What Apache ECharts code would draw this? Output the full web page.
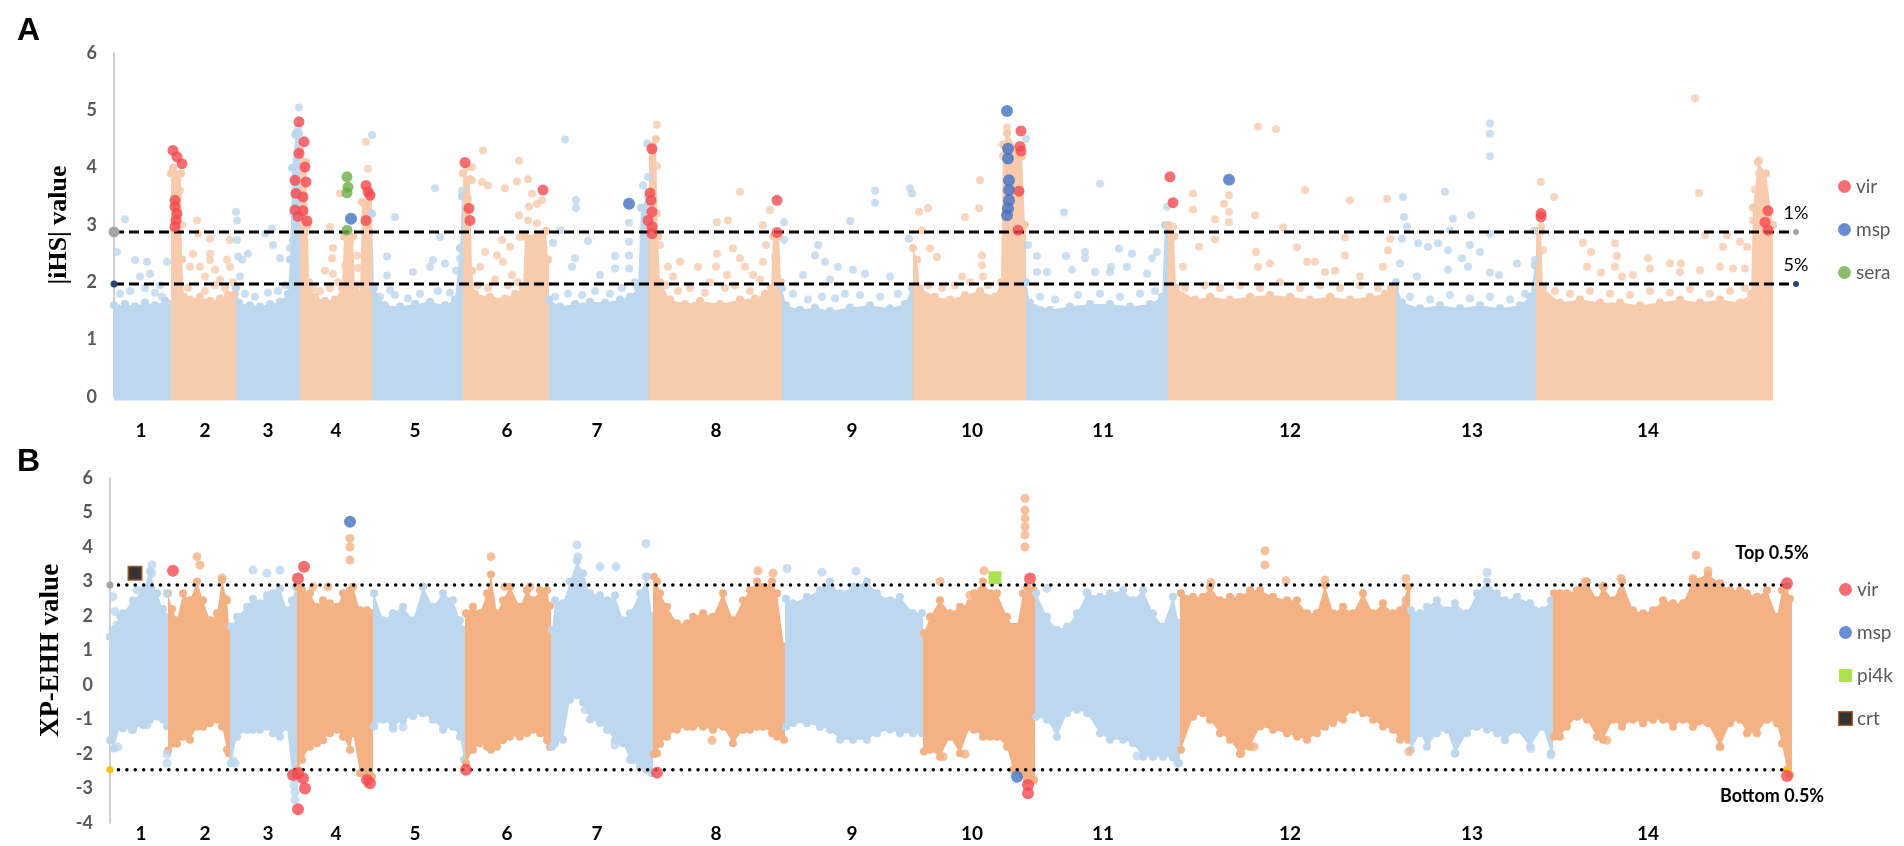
<!DOCTYPE html>
<html>
<head>
<meta charset="utf-8">
<title>iHS and XP-EHH genome scans</title>
<script src="https://cdn.jsdelivr.net/npm/echarts@6/dist/echarts.min.js"></script>
<style>
html, body { margin: 0; padding: 0; background: #fff; }
#main { width: 1904px; height: 846px; }
</style>
</head>
<body>
<div id="main"></div>
<script>
// chromosome labels and their place on the SNP-index axis (same for both panels)
var chrNames = ['1', '2', '3', '4', '5', '6', '7', '8', '9', '10', '11', '12', '13', '14'];
var chrLabelPos = [31, 95, 158, 226, 305, 397, 487, 606, 742, 862, 993, 1180, 1362, 1538];

/* ---------------- panel A : |iHS| ---------------- */
var aChrStart = [4, 61, 126, 190, 262, 353, 439, 539, 672, 803, 916, 1058, 1286, 1426];
var aChrEnd = 1663;
var ihsTop1 = 2.88, ihsTop5 = 1.97;

// upper edge of the dense cloud of SNPs: [index, |iHS|]
var aEnv = [
  [4, 1.6], [8, 1.55], [15, 1.62], [25, 1.58], [35, 1.65], [45, 1.6], [55, 1.68], [60, 1.62],
  [61, 3.9], [63, 4.0], [71, 3.9], [72, 2.4], [74, 1.75], [80, 1.7], [90, 1.75], [100, 1.68], [110, 1.72], [118, 1.78], [125, 1.8],
  [126, 1.9], [129, 1.65], [140, 1.6], [150, 1.58], [160, 1.62], [170, 1.66], [178, 1.8], [180, 2.4], [182, 4.0], [186, 4.6], [189, 4.6],
  [190, 4.3], [196, 4.1], [198, 3.0], [199, 2.0], [205, 1.75], [215, 1.68], [225, 1.7], [232, 1.9], [234, 2.8], [243, 2.8], [245, 1.9], [250, 1.8], [252, 3.4], [260, 3.5], [261, 3.5],
  [262, 3.2], [264, 1.9], [275, 1.6], [290, 1.58], [305, 1.62], [320, 1.66], [335, 1.6], [345, 1.7], [350, 2.6], [352, 3.5],
  [353, 3.9], [360, 3.8], [362, 2.2], [365, 1.8], [380, 1.75], [395, 1.72], [405, 1.8], [413, 1.9], [415, 2.8], [436, 2.9], [438, 2.4],
  [439, 1.7], [450, 1.58], [465, 1.62], [480, 1.66], [495, 1.65], [510, 1.7], [520, 1.75], [528, 1.9], [531, 3.3], [538, 3.5],
  [539, 4.4], [546, 4.5], [548, 2.8], [550, 2.0], [560, 1.7], [575, 1.62], [590, 1.68], [610, 1.62], [630, 1.7], [645, 1.72], [655, 1.8], [661, 1.9], [663, 2.8], [669, 2.8], [671, 2.0],
  [672, 1.9], [676, 1.6], [690, 1.52], [705, 1.56], [720, 1.5], [740, 1.56], [760, 1.6], [780, 1.55], [795, 1.62], [802, 1.9],
  [803, 2.6], [807, 2.4], [810, 1.9], [825, 1.75], [840, 1.7], [855, 1.78], [870, 1.85], [885, 1.75], [891, 2.0], [893, 4.4], [897, 4.6], [912, 4.2], [915, 3.0],
  [916, 2.0], [920, 1.65], [940, 1.52], [960, 1.58], [980, 1.62], [1000, 1.62], [1020, 1.58], [1040, 1.62], [1052, 1.75], [1055, 3.0], [1057, 3.0],
  [1058, 3.0], [1064, 2.8], [1066, 1.9], [1085, 1.7], [1100, 1.75], [1120, 1.7], [1140, 1.75], [1160, 1.78], [1180, 1.75], [1200, 1.7], [1220, 1.75], [1240, 1.7], [1260, 1.75], [1275, 1.8], [1281, 1.9], [1285, 1.9],
  [1286, 2.0], [1292, 1.65], [1310, 1.55], [1330, 1.6], [1350, 1.55], [1370, 1.6], [1390, 1.55], [1410, 1.6], [1420, 1.75], [1425, 2.3],
  [1426, 2.9], [1431, 2.9], [1433, 1.9], [1450, 1.65], [1470, 1.7], [1490, 1.65], [1510, 1.65], [1530, 1.6], [1550, 1.65], [1570, 1.7], [1590, 1.65], [1610, 1.7], [1630, 1.65], [1641, 1.8], [1643, 3.3], [1648, 4.1], [1656, 3.9], [1663, 3.0]
];

// single SNPs standing out of the cloud
var aOut = [
  [15, 3.1], [7, 2.53], [25, 2.39], [37, 2.36], [40, 2.15], [30, 2.1], [57, 2.36], [35, 1.9], [50, 1.95],
  [10, 1.8], [20, 1.85], [45, 1.82], [52, 1.75],
  [63, 3.9], [66, 3.7], [68, 3.5], [65, 3.3], [70, 3.6], [72, 3.0], [64, 2.9],
  [87, 3.08], [88, 2.85], [100, 2.76], [100, 2.5], [100, 2.39], [83, 2.5], [80, 2.27], [90, 2.27], [105, 2.22], [120, 2.74], [120, 2.27], [117, 2.4], [95, 2.1], [110, 2.05],
  [78, 1.9], [95, 1.85], [105, 1.95], [115, 1.9], [123, 2.0],
  [126, 3.23], [127, 3.08], [127, 2.74], [128, 2.45], [130, 2.1], [138, 2.5], [132, 2.4], [155, 2.85], [162, 2.94], [163, 2.65], [170, 2.42], [180, 2.6], [183, 2.73], [183, 3.2], [185, 4.57], [188, 4.7], [189, 5.05],
  [135, 1.8], [145, 1.75], [158, 1.82], [168, 1.85], [175, 1.95],
  [220, 2.97], [223, 2.6], [222, 2.42], [223, 2.15], [230, 3.55], [247, 2.47], [248, 2.25], [240, 2.7], [256, 4.45], [258, 3.98], [235, 2.3], [215, 2.2],
  [203, 1.9], [210, 1.85], [220, 1.9], [228, 2.0], [248, 1.95],
  [262, 4.57], [285, 3.14], [277, 2.45], [277, 2.12], [280, 1.86], [303, 2.18], [320, 2.27], [323, 2.39], [325, 3.64], [330, 2.79], [335, 2.33], [350, 2.42], [352, 3.6], [346, 2.2],
  [270, 1.75], [285, 1.78], [298, 1.72], [310, 1.8], [328, 1.85], [340, 1.82],
  [373, 4.3], [362, 4.01], [362, 3.78], [372, 3.75], [378, 3.69], [395, 3.64], [407, 3.76], [409, 4.12], [418, 3.8], [422, 3.55], [432, 3.43], [409, 3.17], [419, 3.32], [427, 3.37], [418, 3.08], [427, 3.03],
  [392, 2.74], [400, 2.62], [375, 2.53], [387, 2.47], [393, 2.36], [370, 2.27], [402, 2.13], [410, 2.79], [358, 3.46], [357, 4.0],
  [368, 1.95], [378, 1.9], [385, 2.05], [398, 1.95], [408, 2.0],
  [455, 4.49], [466, 3.43], [466, 3.3], [450, 2.91], [443, 2.69], [478, 2.72], [465, 2.42], [462, 2.27], [490, 2.13], [505, 2.46], [505, 2.24], [519, 3.04], [519, 2.71], [519, 2.47], [519, 2.24], [533, 3.69], [535, 3.2], [537, 4.42], [538, 3.84],
  [445, 1.75], [458, 1.8], [472, 1.78], [485, 1.85], [500, 1.8], [512, 1.9], [525, 2.0],
  [547, 4.75], [547, 4.03], [547, 3.2], [550, 2.65], [558, 2.27], [570, 2.36], [563, 2.1], [588, 2.27], [607, 3.05], [618, 3.08], [607, 2.5], [606, 2.27], [623, 2.59], [630, 3.58], [630, 2.42], [617, 2.13], [635, 2.27], [643, 2.13], [653, 3.0], [660, 3.26], [656, 2.65], [653, 2.36], [665, 2.44],
  [556, 1.95], [568, 1.85], [580, 1.9], [595, 1.82], [600, 2.0], [615, 1.9], [625, 1.95], [640, 1.85], [650, 2.05],
  [674, 3.05], [674, 2.74], [693, 2.13], [708, 2.65], [705, 2.47], [715, 2.36], [728, 2.27], [740, 3.07], [743, 2.22], [765, 3.6], [765, 3.39], [800, 3.64], [799, 2.76], [780, 2.1], [755, 2.15], [720, 2.05], [802, 3.55],
  [683, 1.8], [698, 1.7], [712, 1.75], [725, 1.72], [735, 1.8], [750, 1.78], [770, 1.75], [788, 1.8],
  [809, 3.23], [818, 3.29], [812, 2.91], [820, 2.59], [827, 2.44], [855, 3.14], [869, 3.29], [870, 3.78], [872, 2.47], [872, 2.3], [873, 2.1], [852, 2.1], [897, 4.7], [893, 4.2], [900, 3.9], [905, 3.6],
  [818, 1.95], [832, 1.9], [845, 1.95], [860, 2.0], [878, 1.95],
  [916, 4.5], [918, 2.65], [927, 2.46], [927, 2.18], [937, 2.18], [954, 3.22], [956, 2.46], [962, 2.22], [975, 2.53], [975, 2.42], [990, 3.72], [985, 2.18], [1000, 2.18], [1001, 2.27], [1009, 2.59], [1017, 2.27], [1022, 2.5], [1042, 2.42], [1047, 2.53], [1037, 2.15], [1057, 3.32],
  [930, 1.75], [945, 1.7], [968, 1.78], [990, 1.8], [1010, 1.75], [1030, 1.8], [1045, 1.85],
  [1063, 2.97], [1073, 2.27], [1083, 3.55], [1083, 3.27], [1089, 2.62], [1105, 3.1], [1105, 2.75], [1114, 3.37], [1119, 3.52], [1119, 3.23], [1119, 3.05], [1145, 3.17], [1148, 4.72], [1166, 4.67], [1146, 2.53], [1148, 2.27], [1160, 2.33],
  [1173, 2.96], [1187, 2.61], [1195, 3.61], [1197, 2.36], [1205, 2.36], [1215, 2.18], [1235, 2.78], [1235, 2.47], [1240, 3.43], [1277, 3.46], [1278, 2.56], [1280, 2.76], [1273, 2.27], [1250, 2.1], [1225, 2.2],
  [1075, 1.9], [1095, 1.95], [1110, 1.9], [1130, 1.95], [1150, 1.9], [1170, 2.0], [1190, 1.9], [1210, 1.95], [1230, 1.9], [1250, 1.95], [1268, 1.9],
  [1293, 3.49], [1294, 3.14], [1297, 2.97], [1290, 2.33], [1292, 2.76], [1307, 2.1], [1308, 2.68], [1318, 2.62], [1328, 2.68], [1335, 3.58], [1343, 3.11], [1340, 2.91], [1338, 2.56], [1338, 2.22], [1352, 2.42], [1358, 2.27], [1360, 2.65], [1361, 3.17], [1370, 2.53],
  [1380, 4.77], [1380, 4.59], [1380, 4.2], [1380, 2.85], [1380, 2.17], [1389, 2.13], [1407, 2.33], [1425, 2.39], [1424, 2.9],
  [1300, 1.75], [1320, 1.7], [1340, 1.78], [1360, 1.72], [1380, 1.75], [1400, 1.7], [1415, 1.8],
  [1431, 3.75], [1444, 3.49], [1431, 2.97], [1433, 2.56], [1473, 2.69], [1481, 2.53], [1477, 2.27], [1491, 2.17], [1505, 2.68], [1507, 2.46], [1505, 2.27], [1512, 2.1], [1523, 2.13], [1538, 2.42], [1540, 2.24], [1560, 2.33], [1571, 2.33], [1570, 2.18],
  [1585, 5.21], [1589, 3.56], [1595, 2.82], [1590, 2.21], [1610, 2.27], [1613, 2.62], [1617, 2.82], [1623, 2.24], [1630, 2.71], [1637, 2.62], [1635, 2.24], [1649, 4.13], [1649, 3.9], [1645, 3.62], [1643, 3.08],
  [1445, 1.85], [1460, 1.8], [1480, 1.85], [1500, 1.8], [1520, 1.78], [1540, 1.85], [1560, 1.82], [1580, 1.88], [1600, 1.8], [1620, 1.85], [1635, 1.9]
];

var aVir = [
  [63, 4.3], [67, 4.19], [72, 4.07], [65, 3.43], [65, 3.32], [67, 3.2], [66, 3.08], [65, 2.97],
  [189, 4.8], [194, 4.45], [189, 4.25], [195, 4.01], [185, 3.78], [196, 3.75], [186, 3.55], [193, 3.49], [185, 3.26], [193, 3.25], [188, 3.15], [197, 3.07],
  [256, 3.69], [258, 3.58], [260, 3.52], [256, 3.08],
  [355, 4.09], [359, 3.29], [360, 3.08], [433, 3.61],
  [542, 4.33], [540, 3.56], [541, 3.43], [542, 3.23], [538, 3.08], [542, 2.97], [542, 2.85],
  [667, 3.43], [667, 2.87],
  [911, 4.64], [910, 4.37], [911, 4.29], [909, 3.59], [908, 2.91],
  [1060, 3.84], [1063, 3.39], [1431, 3.2], [1431, 3.14],
  [1658, 3.25], [1655, 3.05], [1658, 2.91]
];
var aMsp = [[241, 3.11], [519, 3.37], [897, 4.99], [898, 4.33], [898, 4.16], [899, 3.78], [899, 3.61], [899, 3.43], [898, 3.29], [897, 3.17], [1119, 3.79]];
var aSera = [[237, 3.84], [238, 3.66], [237, 3.56], [237, 2.91]];

/* ---------------- panel B : XP-EHH ---------------- */
var bChrStart = [0, 58, 120, 187, 263, 355, 441, 543, 675, 813, 925, 1070, 1300, 1443];
var bChrEnd = 1682;
var xpTop = 2.9, xpBottom = -2.46;

// lower and upper edge of the dense cloud: [index, low, high]
var bEnv = [
  [0, -1.6, 1.4], [4, -1.84, 1.6], [10, -1.2, 2.0], [13, -1.25, 2.08], [23, -1.3, 2.46], [33, -1.16, 2.75], [40, -1.0, 3.3], [47, -0.92, 2.66], [53, -1.0, 2.2], [57, -1.2, 1.98],
  [58, -1.9, 2.66], [62, -1.7, 2.2], [67, -1.7, 1.88], [73, -1.5, 2.66], [80, -1.59, 2.46], [87, -1.21, 3.0], [93, -1.21, 2.46], [100, -1.11, 1.88], [107, -1.01, 2.08], [112, -1.2, 3.04], [117, -1.88, 2.46], [119, -1.98, 1.69],
  [121, -2.27, 1.69], [127, -1.5, 1.98], [137, -1.3, 2.27], [143, -1.3, 2.5], [150, -1.3, 2.37], [157, -1.21, 2.6], [163, -1.4, 2.66], [170, -1.5, 2.8], [177, -1.21, 2.17], [182, -2.56, 2.46], [186, -2.7, 2.85],
  [188, -2.46, 2.85], [192, -2.17, 2.75], [200, -1.79, 2.66], [207, -1.69, 2.27], [213, -1.6, 2.46], [220, -1.4, 2.37], [227, -1.3, 2.27], [233, -1.5, 2.66], [240, -1.88, 2.75], [243, -1.4, 2.85], [250, -2.56, 2.17], [257, -2.66, 2.17], [262, -2.66, 2.08],
  [264, -1.2, 2.66], [273, -1.01, 1.88], [283, -1.21, 2.08], [293, -1.01, 2.27], [303, -0.9, 1.88], [313, -0.82, 2.85], [323, -1.01, 2.27], [333, -1.3, 2.66], [343, -1.21, 2.46], [350, -1.5, 1.88], [354, -2.17, 1.6],
  [356, -2.27, 2.08], [363, -1.88, 2.27], [370, -1.69, 2.08], [377, -1.79, 2.66], [381, -1.88, 3.2], [387, -1.79, 2.08], [393, -1.6, 2.46], [400, -1.5, 2.85], [410, -1.5, 2.27], [417, -1.4, 2.75], [423, -1.3, 2.46], [430, -1.4, 2.75], [437, -1.6, 2.75], [440, -1.8, 2.3],
  [442, -1.79, 1.6], [445, -1.69, 2.46], [453, -1.59, 2.37], [460, -0.43, 3.0], [467, -0.3, 3.6], [473, -0.5, 3.24], [480, -1.0, 2.66], [490, -1.1, 2.6], [497, -1.3, 2.46], [505, -1.6, 2.6], [513, -1.69, 1.88], [520, -2.17, 2.08], [530, -2.37, 2.66], [537, -2.46, 3.14], [542, -2.56, 2.0],
  [544, -2.0, 3.14], [547, -1.98, 3.0], [550, -1.7, 2.66], [557, -1.5, 2.27], [567, -1.3, 1.79], [577, -1.21, 1.79], [583, -1.21, 1.98], [593, -1.21, 2.08], [603, -1.3, 1.98], [613, -1.21, 2.66], [623, -1.69, 1.88], [633, -1.3, 2.46], [640, -1.3, 2.75], [647, -1.21, 3.0], [653, -1.21, 2.85], [662, -1.4, 3.0], [667, -1.5, 2.66], [674, -1.59, 1.11],
  [676, -1.21, 2.5], [683, -1.11, 2.37], [697, -1.11, 2.56], [710, -1.21, 2.75], [720, -1.3, 3.0], [730, -1.59, 2.66], [743, -1.59, 2.85], [757, -1.59, 3.0], [767, -1.4, 2.66], [780, -1.3, 2.46], [790, -1.4, 2.56], [803, -1.4, 2.08], [812, -1.4, 2.08],
  [814, -1.93, 1.5], [820, -1.88, 1.98], [830, -2.08, 2.46], [840, -1.5, 2.08], [850, -1.98, 2.27], [860, -1.21, 2.37], [864, -1.3, 2.66], [873, -1.5, 3.0], [880, -1.5, 2.66], [887, -1.5, 2.66], [897, -1.79, 1.98], [903, -2.46, 1.69], [907, -2.46, 1.69], [913, -2.6, 2.66], [917, -2.75, 2.85], [924, -2.75, 2.75],
  [926, -0.92, 2.66], [937, -1.01, 1.98], [947, -1.5, 1.6], [957, -0.82, 1.69], [967, -0.72, 2.08], [977, -0.82, 2.66], [990, -1.4, 2.56], [1000, -1.59, 2.66], [1013, -1.59, 2.75], [1023, -1.69, 2.46], [1033, -2.08, 2.75], [1043, -2.08, 2.08], [1053, -2.08, 1.69], [1063, -2.1, 2.56], [1069, -2.27, 1.8],
  [1071, -1.88, 2.66], [1083, -0.92, 2.56], [1093, -0.82, 2.56], [1100, -1.01, 2.85], [1110, -1.4, 2.46], [1120, -1.59, 2.56], [1130, -2.0, 2.56], [1140, -1.79, 2.75], [1150, -1.2, 2.75], [1163, -1.3, 2.56], [1177, -1.4, 2.46], [1187, -1.5, 2.46], [1197, -1.59, 2.08], [1207, -1.4, 2.08], [1215, -1.21, 2.9], [1223, -1.1, 2.08], [1233, -1.0, 2.27], [1243, -0.72, 2.08], [1253, -0.82, 2.66], [1263, -1.01, 2.08], [1273, -1.2, 2.37], [1283, -1.3, 2.08], [1290, -1.59, 2.17], [1298, -1.59, 2.85],
  [1301, -1.88, 2.17], [1310, -1.4, 2.08], [1317, -1.79, 2.27], [1327, -1.4, 2.46], [1337, -1.3, 2.17], [1345, -1.98, 2.37], [1357, -1.4, 2.08], [1367, -1.21, 2.66], [1377, -1.3, 3.0], [1387, -1.4, 2.66], [1395, -1.6, 2.46], [1407, -1.3, 2.56], [1420, -1.79, 2.37], [1433, -1.21, 2.17], [1441, -1.98, 2.46],
  [1444, -1.5, 2.66], [1450, -1.5, 2.66], [1457, -1.21, 2.66], [1467, -0.92, 2.75], [1477, -1.01, 3.0], [1487, -1.5, 2.46], [1493, -1.59, 2.85], [1503, -1.01, 2.46], [1512, -1.21, 3.0], [1523, -1.01, 2.17], [1533, -1.11, 2.08], [1543, -1.01, 2.17], [1553, -1.01, 2.46], [1563, -1.21, 2.37], [1573, -1.01, 2.37], [1583, -1.21, 3.04], [1598, -1.11, 3.2], [1610, -1.79, 2.95], [1620, -1.11, 2.75], [1630, -1.01, 2.75], [1637, -1.4, 2.66], [1647, -1.4, 2.56], [1657, -1.01, 2.75], [1667, -1.11, 1.98], [1672, -1.7, 2.75], [1677, -2.46, 2.85], [1680, -2.6, 2.5]
];

var bOut = [
  [3, 2.56], [5, 2.13], [7, 1.74], [27, 2.75], [42, 3.48], [42, 3.24], [8, -1.8], [22, -1.3], [37, -1.16], [57, -2.27], [57, -2.0], [57, 2.65],
  [87, 3.72], [90, 3.48], [112, 3.1], [115, 2.5],
  [143, 3.33], [157, 3.24], [170, 3.33], [123, -2.2], [125, -2.27], [185, -3.33], [185, -3.1], [184, -2.9],
  [240, 3.62], [240, 4.0], [240, 4.25], [218, 2.85], [203, 2.85],
  [313, 2.85], [283, -1.26], [293, -1.21],
  [381, 3.72], [395, 2.85], [420, 2.85],
  [467, 4.06], [468, 3.72], [490, 3.43], [506, 3.43], [536, 4.1], [536, 3.14], [475, -0.72], [505, -1.74], [523, -2.17], [537, -2.46],
  [648, 3.31], [663, 3.24], [602, -1.6],
  [677, 3.38], [712, 3.27], [746, 3.3],
  [830, 3.0], [874, 3.31], [860, 2.6], [833, -2.08], [855, -2.0],
  [915, 5.41], [915, 5.07], [915, 4.83], [915, 4.59], [915, 4.35], [915, 4.0],
  [937, 2.8], [977, 2.69], [1027, -2.06], [1068, -2.27],
  [1101, 2.97], [1155, 3.89], [1155, 3.48], [1176, 3.02], [1215, 3.04], [1131, -1.98], [1144, -1.79], [1296, 3.09], [1296, 2.46],
  [1377, 3.26], [1299, -1.93], [1345, -1.98], [1421, -1.84], [1441, -2.03],
  [1475, 3.0], [1494, 2.87], [1511, 3.09], [1583, 3.09], [1586, 3.76], [1598, 3.31], [1497, -1.6], [1610, -1.79]
];

var bVir = [
  [63, 3.31], [188, 3.09], [194, 3.43], [183, -2.61], [188, -2.56], [193, -2.7], [195, -3.0], [188, -3.6],
  [257, -2.75], [260, -2.85], [356, -2.46], [547, -2.54], [920, 3.09], [918, -2.9], [918, -3.14],
  [1677, 2.95], [1677, -2.64]
];
var bMsp = [[240, 4.73], [907, -2.66]];
var bPi4k = [[885, 3.11]];
var bCrt = [[25, 3.24]];

/* ---------------- drawing ---------------- */
var BLUE = '#bdd7ee', PEACH = '#f8cbad', ORANGE = '#f4b183';
var VIR = '#f44a4f', MSP = '#4472c4', SERA = '#70ad47', PI4K = '#96dc28';
var FONT = 'Lato, "Open Sans", sans-serif';

function chrIndex(x, starts) {
  var k = 0;
  for (var i = 0; i < starts.length; i++) if (x >= starts[i]) k = i;
  return k;
}

// one polygon per chromosome, built from the envelope samples, with round
// dots on its vertices so the edge looks like the piled-up SNP markers
function cloudSeries(idx, starts, end, env, colors, dotBottom) {
  return {
    type: 'custom', xAxisIndex: idx, yAxisIndex: idx, silent: true, z: 1,
    data: starts.map(function (s, i) { return [s, i + 1 < starts.length ? starts[i + 1] : end, i]; }),
    encode: { x: [0, 1] },
    renderItem: function (params, api) {
      var s = api.value(0), e = api.value(1), k = api.value(2);
      var last = k === starts.length - 1;
      var pts = env.filter(function (d) { return d[0] >= s && (last ? d[0] <= e : d[0] < e); });
      if (!pts.length) return;
      var fill = colors[k % 2];
      var top = [], bot = [], dots = [];
      top.push(api.coord([s, pts[0][2]]));
      bot.push(api.coord([s, pts[0][1]]));
      pts.forEach(function (d) {
        var t = api.coord([d[0], d[2]]), b = api.coord([d[0], d[1]]);
        top.push(t);
        bot.push(b);
        dots.push({ type: 'circle', shape: { cx: t[0], cy: t[1], r: 4 }, style: { fill: fill } });
        if (dotBottom) dots.push({ type: 'circle', shape: { cx: b[0], cy: b[1], r: 4 }, style: { fill: fill } });
      });
      top.push(api.coord([e, pts[pts.length - 1][2]]));
      bot.push(api.coord([e, pts[pts.length - 1][1]]));
      return {
        type: 'group',
        children: [{ type: 'polygon', shape: { points: top.concat(bot.reverse()) }, style: { fill: fill } }].concat(dots)
      };
    }
  };
}

function outlierSeries(idx, pts, starts, colors, size) {
  return {
    type: 'scatter', xAxisIndex: idx, yAxisIndex: idx, silent: true, z: 2, symbolSize: size,
    data: pts.map(function (p) {
      return { value: p, itemStyle: { color: colors[chrIndex(p[0], starts) % 2] } };
    })
  };
}

function geneSeries(idx, name, pts, symbol, size, style) {
  return {
    name: name, type: 'scatter', xAxisIndex: idx, yAxisIndex: idx, z: 4,
    symbol: symbol, symbolSize: size, itemStyle: style, data: pts
  };
}

function cutLine(idx, x0, x1, y, lineStyle, leftSym, rightSym, label) {
  return {
    type: 'line', xAxisIndex: idx, yAxisIndex: idx, silent: true, z: 3,
    lineStyle: lineStyle, symbol: 'circle', showSymbol: true,
    data: [
      { value: [x0, y], symbolSize: leftSym[0], itemStyle: { color: leftSym[1] } },
      { value: [x1, y], symbolSize: rightSym[0], itemStyle: { color: rightSym[1] }, label: label }
    ]
  };
}

var dashed = { color: '#000', width: 3, type: [10, 5] };
var dotted = { color: '#000', width: 3.5, type: [0.1, 8.3], cap: 'round' };
var cutLabel = function (text, pos, dist, off, bold) {
  return {
    show: true, formatter: text, position: pos, distance: dist, offset: off,
    color: '#000', fontSize: 18, fontFamily: FONT, fontWeight: bold ? 'bold' : 'normal'
  };
};

var xLabel = {
  customValues: chrLabelPos,
  formatter: function (v) { return chrNames[chrLabelPos.indexOf(v)]; },
  color: '#000', fontSize: 19, fontWeight: 'bold', fontFamily: FONT
};
var yLabel = { color: '#595959', fontSize: 18, fontWeight: 'bold', fontFamily: FONT, margin: 17 };
var yName = { color: '#000', fontSize: 26, fontWeight: 'bold', fontFamily: '"Liberation Serif", serif' };
var legendText = { color: '#595959', fontSize: 19, fontFamily: FONT };

var chart = echarts.init(document.getElementById('main'));
chart.setOption({
  animation: false,
  backgroundColor: '#fff',
  title: [
    { text: 'A', left: 12, top: 10, textStyle: { fontSize: 32, fontWeight: 'bold', fontFamily: '"Liberation Sans", Arial', color: '#000' } },
    { text: 'B', left: 12, top: 441, textStyle: { fontSize: 32, fontWeight: 'bold', fontFamily: '"Liberation Sans", Arial', color: '#000' } }
  ],
  legend: [
    {
      orient: 'vertical', left: 1833, top: 172, itemGap: 24, itemWidth: 13, itemHeight: 13,
      selectedMode: false, textStyle: legendText,
      data: [{ name: 'vir', icon: 'circle' }, { name: 'msp', icon: 'circle' }, { name: 'sera', icon: 'circle' }]
    },
    {
      orient: 'vertical', left: 1833, top: 575, itemGap: 24, itemWidth: 13, itemHeight: 13,
      selectedMode: false, textStyle: legendText,
      data: [{ name: 'vir', icon: 'circle' }, { name: 'msp', icon: 'circle' }, { name: 'pi4k', icon: 'rect' }, { name: 'crt', icon: 'rect' }]
    }
  ],
  grid: [
    { left: 114, top: 53, width: 1682, height: 344 },
    { left: 110, top: 478, width: 1677, height: 345 }
  ],
  xAxis: [
    {
      gridIndex: 0, type: 'value', min: 4, max: 1686,
      axisLine: { show: false }, axisTick: { show: false }, splitLine: { show: false },
      axisLabel: Object.assign({ margin: 24 }, xLabel)
    },
    {
      gridIndex: 1, type: 'value', min: 0, max: 1677,
      axisLine: { show: false, onZero: false }, axisTick: { show: false }, splitLine: { show: false },
      axisLabel: Object.assign({ margin: 1 }, xLabel)
    }
  ],
  yAxis: [
    {
      gridIndex: 0, type: 'value', min: 0, max: 6, interval: 1,
      axisLine: { show: true, lineStyle: { color: '#bfbfbf', width: 1.5 } },
      axisTick: { show: false }, splitLine: { show: false }, axisLabel: yLabel,
      name: '|iHS| value', nameLocation: 'middle', nameGap: 42, nameTextStyle: yName
    },
    {
      gridIndex: 1, type: 'value', min: -4, max: 6, interval: 1,
      axisLine: { show: true, onZero: false, lineStyle: { color: '#bfbfbf', width: 1.5 } },
      axisTick: { show: false }, splitLine: { show: false }, axisLabel: yLabel,
      name: 'XP-EHH value', nameLocation: 'middle', nameGap: 42, nameTextStyle: Object.assign({}, yName, { fontSize: 27 })
    }
  ],
  series: [
    cloudSeries(0, aChrStart, aChrEnd, aEnv.map(function (d) { return [d[0], -0.06, d[1]]; }), [BLUE, PEACH], false),
    outlierSeries(0, aOut, aChrStart, [BLUE, PEACH], 8),
    cutLine(0, 4, 1686, ihsTop1, dashed, [11, '#a5a5a5'], [6, '#a5a5a5'], cutLabel('1%', 'top', 7, [0, 0], false)),
    cutLine(0, 4, 1686, ihsTop5, dashed, [7, '#264478'], [6, '#264478'], cutLabel('5%', 'top', 7, [0, 0], false)),
    geneSeries(0, 'vir', aVir, 'circle', 11, { color: VIR }),
    geneSeries(0, 'msp', aMsp, 'circle', 12, { color: MSP }),
    geneSeries(0, 'sera', aSera, 'circle', 11, { color: SERA }),

    cloudSeries(1, bChrStart, bChrEnd, bEnv, [BLUE, ORANGE], true),
    outlierSeries(1, bOut, bChrStart, [BLUE, ORANGE], 9),
    cutLine(1, 0, 1677, xpTop, dotted, [7, '#a5a5a5'], [6, '#a5a5a5'], cutLabel('Top 0.5%', 'top', 20, [-15, 0], true)),
    cutLine(1, 0, 1677, xpBottom, dotted, [7, '#ffc000'], [6, '#ffc000'], cutLabel('Bottom 0.5%', 'bottom', 14, [-15, 0], true)),
    geneSeries(1, 'vir', bVir, 'circle', 12, { color: VIR }),
    geneSeries(1, 'msp', bMsp, 'circle', 12, { color: MSP }),
    geneSeries(1, 'pi4k', bPi4k, 'rect', 13, { color: PI4K }),
    geneSeries(1, 'crt', bCrt, 'rect', 13, { color: '#000', borderColor: '#843c0c', borderWidth: 2 })
  ]
});
</script>
</body>
</html>
